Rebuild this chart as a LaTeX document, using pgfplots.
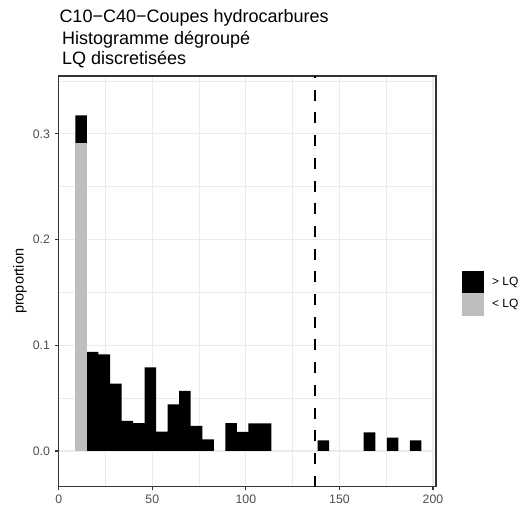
\documentclass[border=0pt]{standalone}
\usepackage{fontspec}
\setmainfont{Liberation Sans}
\usepackage{pgfplots}
\pgfplotsset{compat=1.18}
\definecolor{gridc}{HTML}{EBEBEB}
\definecolor{framec}{HTML}{333333}
\definecolor{tickc}{HTML}{4D4D4D}
\definecolor{lqgrey}{HTML}{BEBEBE}
\begin{document}
\begin{tikzpicture}
\path[use as bounding box] (-58.7pt,-24.3pt) rectangle (471.3pt,486.7pt);
\begin{axis}[
  at={(0pt,0pt)}, anchor=south west,
  scale only axis, width=377.3pt, height=410.7pt,
  xmin=0, xmax=201.6, ymin=-0.0338, ymax=0.3548,
  xtick={0,50,100,150,200}, ytick={0,0.1,0.2,0.3},
  minor xtick={25,75,125,175}, minor ytick={0.05,0.15,0.25,0.35},
  grid=both,
  major grid style={draw=gridc, line width=1.1pt},
  minor grid style={draw=gridc, line width=0.55pt},
  axis line style={draw=framec, line width=1.1pt},
  tick pos=left, tick align=outside, major tick length=3.6pt, minor tick length=0pt,
  every tick/.style={draw=framec, line width=1.1pt},
  /pgf/number format/assume math mode=true,
  tick label style={font=\fontsize{12.3}{14}\selectfont, text=tickc},
  xticklabel style={inner sep=0pt, yshift=-4.6pt},
  yticklabel style={inner sep=0pt, xshift=-5pt, /pgf/number format/.cd, fixed, fixed zerofill, precision=1},
  ylabel={proportion},
  ylabel style={font=\fontsize{14.5}{16}\selectfont, at={(axis description cs:-0.1026,0.5)}, anchor=center},
  legend style={at={(axis description cs:1.0681,0.5259)}, anchor=north west,
    draw=none, fill=none, inner sep=0pt, outer sep=0pt, row sep=0pt, column sep=9pt,
    font=\fontsize{12}{14}\selectfont, nodes={inner sep=0pt, anchor=west}},
  legend cell align=left,
]
% black (> LQ) histogram: bin centres, bins of width 6.162 (empty bins omitted)
\addplot[ybar, bar width=6.162, bar shift=0pt, fill=black, draw=none, forget plot] coordinates {
(12.01,0.3175) (18.17,0.0938) (24.34,0.0913) (30.50,0.0638) (36.66,0.0284)
(42.82,0.0263) (48.98,0.0791) (55.15,0.0184) (61.31,0.0441) (67.47,0.0569)
(73.63,0.0238) (79.79,0.0110) (92.12,0.0263) (98.28,0.0180)
(104.44,0.0260) (110.60,0.0260) (141.41,0.0101)
(166.06,0.0177) (178.38,0.0126) (190.71,0.0101)};
% grey (< LQ) part
\addplot[ybar, bar width=6.162, bar shift=0pt, fill=lqgrey, draw=none, forget plot] coordinates {
(12.01,0.2917)};
% LQ reference line
\addplot[black, line width=2.7pt, dash pattern=on 11pt off 11.7pt, forget plot] coordinates {(137,-0.0338) (137,0.3548)};
\addlegendimage{legend image code/.code={\fill[black] (0pt,-10.85pt) rectangle (21pt,10.85pt);}}
\addlegendentry{> LQ}
\addlegendimage{legend image code/.code={\fill[lqgrey] (0pt,-10.85pt) rectangle (21pt,10.85pt);}}
\addlegendentry{< LQ}
\end{axis}
\node[anchor=base west, inner sep=0pt, font=\fontsize{18}{20}\selectfont] at (0.6pt,464pt) {C10−C40−Coupes hydrocarbures};
\node[anchor=base west, inner sep=0pt, font=\fontsize{18}{20}\selectfont] at (3.3pt,442.4pt) {Histogramme dégroupé};
\node[anchor=base west, inner sep=0pt, font=\fontsize{18}{20}\selectfont] at (3.3pt,422.4pt) {LQ discretisées};
\end{tikzpicture}
\end{document}
